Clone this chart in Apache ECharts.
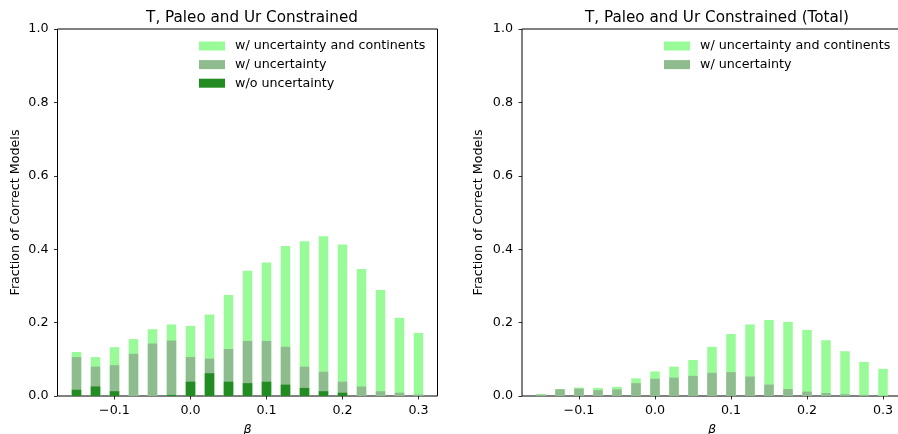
<!DOCTYPE html>
<html>
<head>
<meta charset="utf-8">
<script src="https://cdn.jsdelivr.net/npm/echarts@6/dist/echarts.min.js"></script>
<style>
html,body{margin:0;padding:0;background:#fff;}
#chart{width:898px;height:434px;}
</style>
</head>
<body>
<div id="chart"></div>
<script>
// beta bin centres
const betas = [-0.15, -0.125, -0.1, -0.075, -0.05, -0.025, 0.0, 0.025, 0.05, 0.075, 0.1, 0.125, 0.15, 0.175, 0.2, 0.225, 0.25, 0.275, 0.3];
const xTickValues = [-0.1, 0.0, 0.1, 0.2, 0.3];
const seriesNames = ['w/ uncertainty and continents', 'w/ uncertainty', 'w/o uncertainty'];
const titles = ['T, Paleo and Ur Constrained', 'T, Paleo and Ur Constrained (Total)'];

// Left panel
const leftContinents = [0.120, 0.106, 0.133, 0.155, 0.182, 0.195, 0.191, 0.222, 0.275, 0.341, 0.364, 0.409, 0.422, 0.435, 0.413, 0.346, 0.289, 0.213, 0.172];
const leftUncertainty = [0.106, 0.080, 0.084, 0.115, 0.143, 0.151, 0.106, 0.102, 0.128, 0.150, 0.150, 0.134, 0.080, 0.066, 0.039, 0.026, 0.013, 0.009, 0.004];
const leftNoUncertainty = [0.017, 0.026, 0.013, 0, 0, 0.003, 0.039, 0.062, 0.039, 0.035, 0.039, 0.031, 0.022, 0.013, 0.009, 0, 0, 0, 0];

// Right panel (Total)
const rightContinents = [0.005, 0.019, 0.023, 0.022, 0.025, 0.048, 0.067, 0.080, 0.098, 0.134, 0.169, 0.195, 0.207, 0.202, 0.180, 0.152, 0.122, 0.093, 0.074];
const rightUncertainty = [0.004, 0.018, 0.020, 0.016, 0.018, 0.035, 0.047, 0.050, 0.055, 0.063, 0.065, 0.053, 0.031, 0.019, 0.012, 0.008, 0.005, 0.003, 0.001];

const colors = ['#98FB98', '#8FBC8F', '#228B22'];
const FONT = 'DejaVu Sans';
const FS = 12.7;
const TFS = 15.2;

function pairs(vals) { return betas.map((b, i) => [b, vals[i]]); }

function xAxis(gi) {
  return {
    type: 'value', gridIndex: gi, min: -0.175, max: 0.325,
    name: 'β', nameLocation: 'middle', nameGap: 27,
    nameTextStyle: {fontFamily: FONT, fontSize: FS, fontStyle: 'italic', color: '#000'},
    axisLine: {show: false, onZero: false},
    splitLine: {show: false},
    axisTick: {show: true, inside: false, length: 3.5, customValues: xTickValues, lineStyle: {color: '#000', width: 0.8}},
    axisLabel: {show: true, margin: 8, customValues: xTickValues, fontFamily: FONT, fontSize: FS, color: '#000',
      formatter: v => (v < 0 ? '\u2212' : '') + Math.abs(v).toFixed(1)}
  };
}
function yAxis(gi, gap) {
  return {
    type: 'value', gridIndex: gi, min: 0, max: 1, interval: 0.2,
    name: 'Fraction of Correct Models', nameLocation: 'middle', nameGap: gap,
    nameTextStyle: {fontFamily: FONT, fontSize: FS, color: '#000'},
    axisLine: {show: false, onZero: false},
    splitLine: {show: false},
    axisTick: {show: true, inside: false, length: 3.5, lineStyle: {color: '#000', width: 0.8}},
    axisLabel: {show: true, margin: 9, fontFamily: FONT, fontSize: FS, color: '#000', formatter: v => v.toFixed(1)}
  };
}
function bar(name, vals, gi, color) {
  return {
    type: 'bar', name: name, xAxisIndex: gi, yAxisIndex: gi,
    data: pairs(vals), barWidth: 9.5, barGap: '-100%',
    itemStyle: {color: color}, emphasis: {disabled: true}, animation: false
  };
}

const legendText = {fontFamily: FONT, fontSize: FS, color: '#000', lineHeight: 13, padding: [0, 0, 0, 5]};

const chart = echarts.init(document.getElementById('chart'), null, {renderer: 'canvas'});
chart.setOption({
  animation: false,
  title: [
    {text: titles[0], left: 247, top: 6, textAlign: 'center', textStyle: {fontFamily: FONT, fontSize: TFS, fontWeight: 'normal', color: '#000'}},
    {text: titles[1], left: 712, top: 6, textAlign: 'center', textStyle: {fontFamily: FONT, fontSize: TFS, fontWeight: 'normal', color: '#000'}}
  ],
  legend: [
    {data: seriesNames, left: 199, top: 39.5, orient: 'vertical', padding: 0, itemWidth: 26, itemHeight: 9, itemGap: 5.6, icon: 'rect', selectedMode: false, textStyle: legendText},
    {data: seriesNames.slice(0, 2), left: 664, top: 39.5, orient: 'vertical', padding: 0, itemWidth: 26, itemHeight: 9, itemGap: 5.6, icon: 'rect', selectedMode: false, textStyle: legendText}
  ],
  grid: [
    {left: 57.5, top: 29, width: 380, height: 367, show: true, borderColor: '#000', borderWidth: 1, backgroundColor: 'transparent', containLabel: false, outerBoundsMode: 'none'},
    {left: 522, top: 29, width: 380, height: 367, show: true, borderColor: '#000', borderWidth: 1, backgroundColor: 'transparent', containLabel: false, outerBoundsMode: 'none'}
  ],
  xAxis: [xAxis(0), xAxis(1)],
  yAxis: [yAxis(0, 35), yAxis(1, 37)],
  series: [
    bar(seriesNames[0], leftContinents, 0, colors[0]),
    bar(seriesNames[1], leftUncertainty, 0, colors[1]),
    bar(seriesNames[2], leftNoUncertainty, 0, colors[2]),
    bar(seriesNames[0], rightContinents, 1, colors[0]),
    bar(seriesNames[1], rightUncertainty, 1, colors[1])
  ]
});
</script>
</body>
</html>
